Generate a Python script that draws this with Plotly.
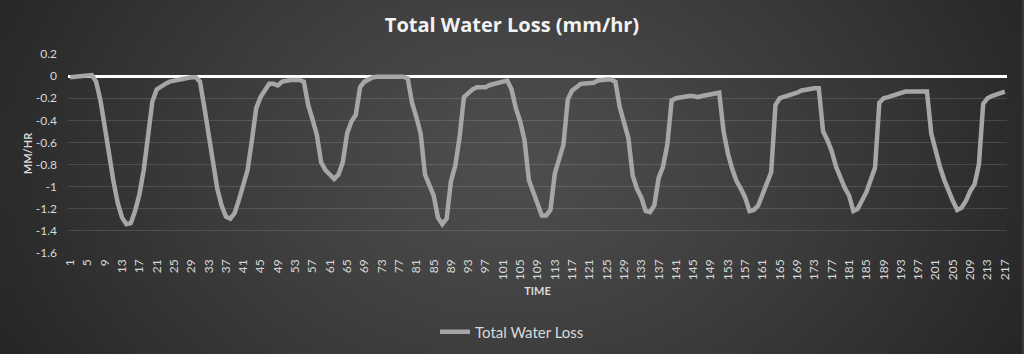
import numpy as np
import zlib, struct, base64
import plotly.graph_objects as go

# ---------------- data ----------------
time_steps = list(range(1, 218))
total_water_loss = [
    -0.01, -0.005, 0.0, 0.005, 0.01, 0.01, -0.05, -0.22, -0.46, -0.72,
    -0.95, -1.15, -1.28, -1.34, -1.33, -1.22, -1.07, -0.85, -0.5, -0.23,
    -0.12, -0.09, -0.07, -0.05, -0.04, -0.03, -0.02, -0.015, -0.01, -0.01,
    -0.05, -0.28, -0.52, -0.78, -1.02, -1.17, -1.27, -1.29, -1.24, -1.12,
    -0.97, -0.85, -0.58, -0.29, -0.19, -0.12, -0.07, -0.07, -0.085, -0.05,
    -0.04, -0.035, -0.035, -0.035, -0.05, -0.26, -0.39, -0.53, -0.78, -0.85,
    -0.89, -0.93, -0.89, -0.78, -0.52, -0.41, -0.35, -0.1, -0.05, -0.03,
    -0.01, -0.005, -0.005, -0.005, -0.005, -0.005, -0.005, -0.005, -0.02, -0.24,
    -0.37, -0.52, -0.89, -0.98, -1.08, -1.28, -1.34, -1.29, -0.95, -0.81,
    -0.55, -0.19, -0.15, -0.12, -0.1, -0.1, -0.1, -0.08, -0.07, -0.06,
    -0.05, -0.04, -0.12, -0.29, -0.41, -0.58, -0.94, -1.04, -1.14, -1.26,
    -1.26, -1.21, -0.88, -0.75, -0.62, -0.21, -0.13, -0.1, -0.07, -0.066,
    -0.066, -0.06, -0.04, -0.03, -0.03, -0.03, -0.05, -0.28, -0.42, -0.56,
    -0.9, -1.02, -1.1, -1.22, -1.23, -1.17, -0.92, -0.82, -0.62, -0.22,
    -0.2, -0.19, -0.18, -0.18, -0.18, -0.19, -0.18, -0.17, -0.16, -0.15,
    -0.15, -0.5, -0.7, -0.84, -0.95, -1.02, -1.1, -1.22, -1.21, -1.17,
    -1.08, -0.97, -0.87, -0.26, -0.2, -0.19, -0.18, -0.17, -0.15, -0.13,
    -0.12, -0.12, -0.11, -0.11, -0.5, -0.58, -0.68, -0.82, -0.93, -1.01,
    -1.08, -1.22, -1.2, -1.12, -1.05, -0.94, -0.83, -0.24, -0.2, -0.19,
    -0.175, -0.16, -0.15, -0.14, -0.14, -0.14, -0.14, -0.14, -0.14, -0.52,
    -0.68, -0.82, -0.94, -1.04, -1.13, -1.21, -1.19, -1.13, -1.04, -0.98,
    -0.8, -0.25, -0.2, -0.18, -0.165, -0.15, -0.14,
]
assert len(total_water_loss) == len(time_steps)

x_labels = [str(t) for t in time_steps]
x_tick_labels = [str(t) for t in time_steps[::4]]
y_tick_values = [0.2, 0, -0.2, -0.4, -0.6, -0.8, -1, -1.2, -1.4, -1.6]
y_tick_text = ["0.2", "0", "-0.2", "-0.4", "-0.6", "-0.8", "-1", "-1.2", "-1.4", "-1.6"]

# ---------------- background gradient image ----------------
W, H = 1024, 354
ML, MR, MT, MB = 68, 15, 54, 101


def png_uri(arr):
    h, w, _ = arr.shape
    raw = b"".join(b"\x00" + arr[r].tobytes() for r in range(h))

    def chunk(tag, data):
        return (struct.pack(">I", len(data)) + tag + data
                + struct.pack(">I", zlib.crc32(tag + data) & 0xFFFFFFFF))

    png = (b"\x89PNG\r\n\x1a\n"
           + chunk(b"IHDR", struct.pack(">IIBBBBB", w, h, 8, 2, 0, 0, 0))
           + chunk(b"IDAT", zlib.compress(raw, 9))
           + chunk(b"IEND", b""))
    return "data:image/png;base64," + base64.b64encode(png).decode()


yy, xx = np.mgrid[0:H, 0:W].astype(float)
d = np.sqrt(((xx - 512) / 600.0) ** 2 + ((yy - 160) / 430.0) ** 2)
d = np.clip(d, 0, 1)
v = 78 - (78 - 36) * d ** 1.2
img = np.repeat(v[:, :, None], 3, axis=2).astype(np.uint8)
bg_uri = png_uri(img)

pw = W - ML - MR
ph = H - MT - MB

# ---------------- figure ----------------
fig = go.Figure()
fig.add_trace(go.Scatter(
    x=x_labels,
    y=total_water_loss,
    mode="lines",
    name="Total Water Loss",
    line=dict(color="#a6a6a6", width=4.5),
))

fig.update_layout(
    width=W,
    height=H,
    margin=dict(l=ML, r=MR, t=MT, b=MB),
    paper_bgcolor="#3a3a3a",
    plot_bgcolor="rgba(0,0,0,0)",
    font=dict(family="Lato, 'Open Sans', sans-serif", color="#d9d9d9", size=12),
    title=dict(
        text="<b>Total Water Loss (mm/hr)</b>",
        x=0.5, xanchor="center", xref="container",
        y=1 - 25 / H, yanchor="middle", yref="container",
        font=dict(family="'Open Sans', sans-serif", size=20, color="#f2f2f2"),
    ),
    showlegend=True,
    legend=dict(
        orientation="h",
        xref="container", yref="container",
        x=0.5, xanchor="center",
        y=1 - 332 / H, yanchor="middle",
        font=dict(size=15, color="#d9d9d9"),
        bgcolor="rgba(0,0,0,0)",
        itemwidth=30,
    ),
    images=[dict(
        source=bg_uri,
        xref="paper", yref="paper",
        x=-ML / pw, y=1 + MT / ph,
        sizex=W / pw, sizey=H / ph,
        xanchor="left", yanchor="top",
        sizing="stretch", layer="below",
    )],
)

fig.update_xaxes(
    type="category",
    categoryorder="array",
    categoryarray=x_labels,
    range=[-0.5, len(x_labels) - 0.5],
    tickmode="array",
    tickvals=x_tick_labels,
    ticktext=x_tick_labels,
    tickangle=-90,
    tickfont=dict(size=12, color="#d9d9d9"),
    ticklabelstandoff=3,
    showgrid=False,
    showline=False,
    zeroline=False,
    ticks="",
    title=dict(text="<b>TIME</b>", font=dict(size=11, color="#d9d9d9"), standoff=8),
)

fig.update_yaxes(
    range=[-1.6, 0.2],
    tickmode="array",
    tickvals=y_tick_values,
    ticktext=y_tick_text,
    tickfont=dict(size=12, color="#d9d9d9"),
    showgrid=True,
    gridcolor="rgba(255,255,255,0.13)",
    gridwidth=1,
    zeroline=True,
    zerolinecolor="#ffffff",
    zerolinewidth=3,
    showline=False,
    ticks="",
    ticklabelstandoff=10,
    title=dict(text="<b>MM/HR</b>", font=dict(size=11, color="#d9d9d9"), standoff=0),
)

fig.write_html("out.html")
